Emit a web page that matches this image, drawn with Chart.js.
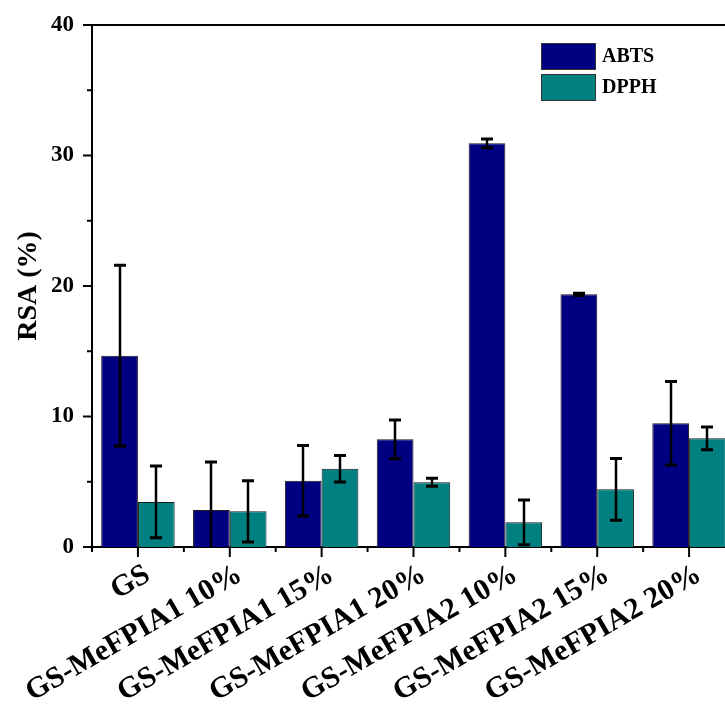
<!DOCTYPE html>
<html><head><meta charset="utf-8">
<script src="https://cdn.jsdelivr.net/npm/chart.js@4"></script>
<style>
html,body{margin:0;padding:0;background:#fff;overflow:hidden;width:725px;height:708px;}
#wrap{position:absolute;left:0;top:0;width:735px;height:708px;}
</style></head><body>
<div id="wrap"><canvas id="c"></canvas></div>
<script>
const categories = ['GS','GS-MeFPIA1 10%','GS-MeFPIA1 15%','GS-MeFPIA1 20%','GS-MeFPIA2 10%','GS-MeFPIA2 15%','GS-MeFPIA2 20%'];
const seriesNames = ['ABTS','DPPH'];
const abts = [14.66, 2.84, 5.08, 8.25, 30.93, 19.36, 9.48];
const abtsErr = [6.93, 3.67, 2.70, 1.49, 0.33, 0.08, 3.20];
const dpph = [3.45, 2.73, 6.00, 4.96, 1.89, 4.42, 8.33];
const dpphErr = [2.75, 2.34, 1.02, 0.31, 1.72, 2.37, 0.87];
const yMin = 0, yMax = 40, yMajorStep = 10, yMinorStep = 5;

const FONT = '"Liberation Serif", "Times New Roman", serif';

const errorBars = {
  id: 'errorBars',
  afterDatasetsDraw(chart) {
    const ctx = chart.ctx, ys = chart.scales.y, a = chart.chartArea;
    const errs = [abtsErr, dpphErr];
    ctx.save();
    ctx.beginPath();
    ctx.rect(a.left, a.top - 5, a.right - a.left, a.bottom - a.top + 5);
    ctx.clip();
    ctx.strokeStyle = '#000';
    chart.data.datasets.forEach((ds, di) => {
      const meta = chart.getDatasetMeta(di);
      meta.data.forEach((bar, i) => {
        const v = ds.data[i], e = errs[di][i];
        const yt = ys.getPixelForValue(v + e);
        const yb = ys.getPixelForValue(Math.max(v - e, yMin - 1));
        const x = Math.round(bar.x);
        ctx.lineWidth = 2.5;
        ctx.beginPath(); ctx.moveTo(x, yt); ctx.lineTo(x, yb); ctx.stroke();
        ctx.lineWidth = 3;
        ctx.beginPath();
        ctx.moveTo(x - 6, yt); ctx.lineTo(x + 6, yt);
        ctx.moveTo(x - 6, yb); ctx.lineTo(x + 6, yb);
        ctx.stroke();
      });
    });
    ctx.restore();
  }
};

const frame = {
  id: 'frame',
  afterDraw(chart) {
    const ctx = chart.ctx, a = chart.chartArea, ys = chart.scales.y, xs = chart.scales.x;
    ctx.save();
    ctx.strokeStyle = '#000';
    ctx.lineWidth = 2;
    ctx.beginPath(); ctx.moveTo(a.left, a.top); ctx.lineTo(a.right, a.top); ctx.stroke();
    for (let v = yMin; v <= yMax; v += yMinorStep) {
      const p = ys.getPixelForValue(v);
      const len = (v % yMajorStep === 0) ? 9 : 5;
      ctx.beginPath(); ctx.moveTo(a.left - len, p); ctx.lineTo(a.left, p); ctx.stroke();
    }
    const n = categories.length;
    for (let i = 0; i < n; i++) {
      const p = xs.getPixelForValue(i);
      ctx.beginPath(); ctx.moveTo(p, a.bottom); ctx.lineTo(p, a.bottom + 10); ctx.stroke();
    }
    for (let i = -1; i < n; i++) {
      const p = (xs.getPixelForValue(i) + xs.getPixelForValue(i + 1)) / 2;
      ctx.beginPath(); ctx.moveTo(p, a.bottom); ctx.lineTo(p, a.bottom + 5); ctx.stroke();
    }
    const x0 = a.left + 449, y0 = a.top + 18;
    chart.data.datasets.forEach((ds, i) => {
      const top = y0 + i * 31;
      ctx.fillStyle = ds.backgroundColor;
      ctx.fillRect(x0, top, 55, 27);
      ctx.strokeStyle = '#333'; ctx.lineWidth = 1;
      ctx.strokeRect(x0 + 0.5, top + 0.5, 54, 26);
      ctx.fillStyle = '#000';
      ctx.font = 'bold 20px ' + FONT;
      ctx.textBaseline = 'middle';
      ctx.textAlign = 'left';
      ctx.fillText(ds.label, x0 + 61, top + 14);
    });
    ctx.restore();
  }
};

new Chart(document.getElementById('c'), {
  type: 'bar',
  data: {
    labels: categories,
    datasets: [
      { label: seriesNames[0], data: abts, backgroundColor: '#000080', borderColor: '#1a1a1a', borderWidth: 1, categoryPercentage: 0.8, barPercentage: 1.0 },
      { label: seriesNames[1], data: dpph, backgroundColor: '#008080', borderColor: '#1a1a1a', borderWidth: 1, categoryPercentage: 0.8, barPercentage: 1.0 }
    ]
  },
  options: {
    responsive: true,
    maintainAspectRatio: false,
    animation: false,
    layout: { padding: { top: 25, left: 0, right: 0, bottom: 0 } },
    plugins: { legend: { display: false }, tooltip: { enabled: false } },
    scales: {
      x: {
        ticks: { font: { family: FONT, weight: 'bold', size: 30 }, color: '#000', minRotation: 30, maxRotation: 30, autoSkip: false, padding: 10, labelOffset: 10 },
        grid: { display: false, drawTicks: false },
        border: { display: true, color: '#000', width: 2 },
        afterFit(s) { s.height = 161; s.paddingLeft = 0; s.paddingRight = 0; }
      },
      y: {
        min: yMin, max: yMax,
        ticks: { stepSize: yMinorStep, callback: v => (v % yMajorStep === 0 ? v : ''), font: { family: FONT, weight: 'bold', size: 23 }, color: '#000', padding: 18 },
        grid: { display: false, drawTicks: false },
        border: { display: true, color: '#000', width: 2 },
        title: { display: true, text: 'RSA (%)', font: { family: FONT, weight: 'bold', size: 28 }, color: '#000', padding: { top: 12, bottom: 0 } },
        afterFit(s) { s.width = 92; s.paddingTop = 0; s.paddingBottom = 0; }
      }
    }
  },
  plugins: [errorBars, frame]
});
</script>
</body></html>
